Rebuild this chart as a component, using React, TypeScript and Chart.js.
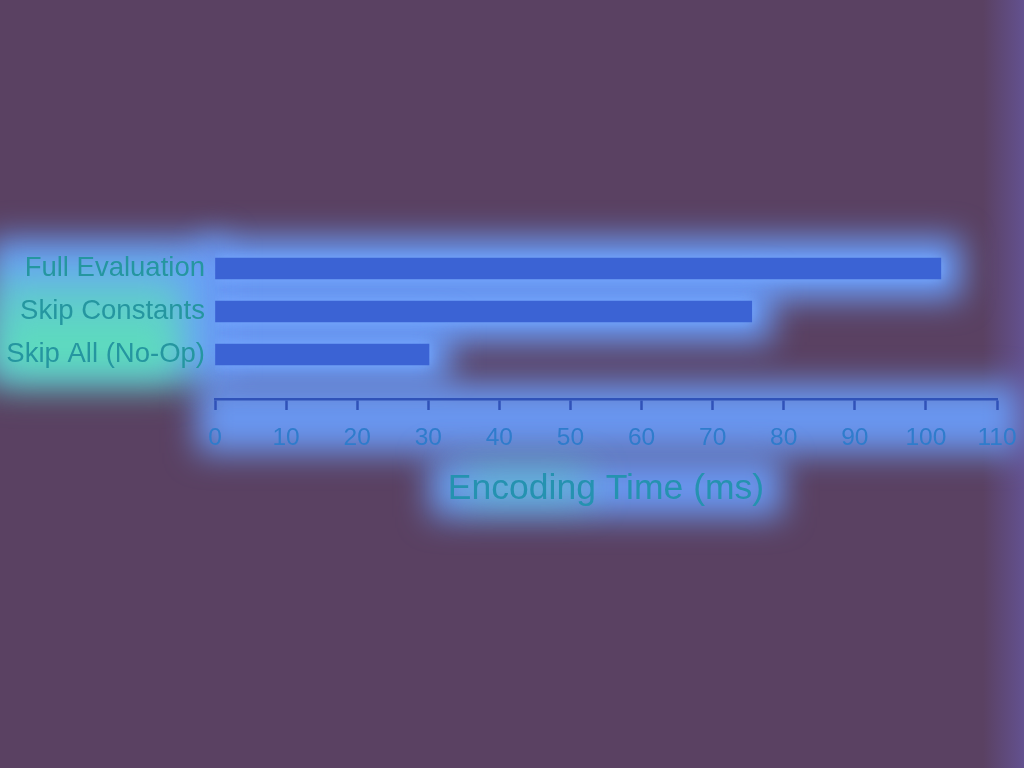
import React, { useEffect, useRef } from "react";
import { Chart, registerables } from "chart.js";

Chart.register(...registerables);

const categories: string[] = ["Full Evaluation", "Skip Constants", "Skip All (No-Op)"];
const encodingTimes: number[] = [102.1, 75.5, 30.1];
const xTickMin = 0;
const xTickMax = 110;
const xTickStep = 10;
const xTitle = "Encoding Time (ms)";

const FONT = "'Liberation Sans', Arial, Helvetica, sans-serif";

const heatPlugin = {
  id: "heat",
  beforeDraw(chart: any) {
    const { ctx, chartArea } = chart;
    const x = chart.scales.x;
    const meta = chart.getDatasetMeta(0);
    const bars = meta.data.map((b: any) => b.getProps(["x", "y", "base", "height"], true));
    if (!bars.length) return;
    const firstY = bars[0].y;
    const lastY = bars[bars.length - 1].y;
    ctx.save();
    ctx.filter = "blur(16px)";
    ctx.fillStyle = "rgba(106,160,255,0.97)";
    bars.forEach((b: any) => {
      ctx.fillRect(b.base - 12, b.y - b.height / 2 - 20, b.x - b.base + 32, b.height + 40);
    });
    ctx.fillRect(-10, firstY - 30, chartArea.left + 20, lastY - firstY + 56);
    ctx.fillStyle = "rgba(106,160,255,0.9)";
    ctx.fillRect(x.left - 18, chartArea.bottom - 16, x.right - x.left + 40, 70);
    ctx.font = `35.5px ${FONT}`;
    const tw = ctx.measureText(xTitle).width;
    const cx = (x.left + x.right) / 2;
    ctx.fillRect(cx - tw / 2 - 18, chartArea.bottom + 58, tw + 36, 60);
    ctx.filter = "blur(20px)";
    const g = ctx.createLinearGradient(0, firstY, 0, lastY + 20);
    g.addColorStop(0, "rgba(90,235,175,0.45)");
    g.addColorStop(1, "rgba(90,235,175,0.95)");
    ctx.fillStyle = g;
    ctx.fillRect(-10, firstY + 4, chartArea.left - 20, lastY - firstY + 22);
    ctx.fillStyle = "rgba(90,235,175,0.6)";
    ctx.fillRect(cx - tw / 2 + 14, chartArea.bottom + 74, tw * 0.4, 24);
    ctx.restore();
  },
  beforeDatasetsDraw(chart: any) {
    const { ctx } = chart;
    ctx.save();
    ctx.shadowColor = "rgba(120,170,255,0.9)";
    ctx.shadowBlur = 12;
  },
  afterDatasetsDraw(chart: any) {
    chart.ctx.restore();
  },
};

export default function App() {
  const canvasRef = useRef<HTMLCanvasElement | null>(null);

  useEffect(() => {
    if (!canvasRef.current) return;
    const chart = new Chart(canvasRef.current, {
      type: "bar",
      data: {
        datasets: [
          {
            data: encodingTimes.map((v, i) => ({ x: v, y: i })),
            backgroundColor: "#3b63d4",
            borderWidth: 0,
            barThickness: 21,
          },
        ],
      },
      plugins: [heatPlugin],
      options: {
        animation: false,
        responsive: false,
        indexAxis: "y",
        layout: { padding: { top: 247, right: 27, bottom: 257, left: 2 } },
        plugins: {
          legend: { display: false },
          tooltip: { enabled: false },
        },
        scales: {
          x: {
            type: "linear",
            bounds: "data",
            min: xTickMin,
            max: xTickMax,
            afterBuildTicks: (scale: any) => {
              const t = [];
              for (let v = xTickMin; v <= xTickMax; v += xTickStep) t.push({ value: v });
              scale.ticks = t;
            },
            afterFit: (scale: any) => {
              scale.paddingLeft = 0;
              scale.paddingRight = 0;
            },
            grid: {
              drawOnChartArea: false,
              drawTicks: true,
              tickLength: 11,
              tickWidth: 2.5,
              tickColor: "#3052b8",
            },
            border: { display: true, color: "#3052b8", width: 2.5 },
            ticks: {
              color: "#2f7ccc",
              font: { family: FONT, size: 24.5 },
              padding: 14,
              maxRotation: 0,
              autoSkip: false,
            },
            title: {
              display: true,
              text: xTitle,
              color: "#2592b0",
              font: { family: FONT, size: 35.5 },
              padding: { top: 1, bottom: 0 },
            },
          },
          y: {
            type: "linear",
            bounds: "data",
            offset: false,
            reverse: true,
            min: -0.5,
            max: 2.5 + 23 / 43,
            afterBuildTicks: (scale: any) => {
              scale.ticks = categories.map((_, i) => ({ value: i }));
            },
            afterFit: (scale: any) => {
              scale.width = 213;
              scale.paddingTop = 0;
              scale.paddingBottom = 0;
            },
            grid: { display: false, drawTicks: false, offset: false },
            border: { display: false },
            ticks: {
              color: "#2596a0",
              font: { family: FONT, size: 27.5 },
              padding: 10,
              autoSkip: false,
              callback: (v: any) => categories[Number(v)] ?? "",
            },
          },
        },
      },
    } as any);
    return () => chart.destroy();
  }, []);

  return (
    <div
      style={{
        position: "fixed",
        left: 0,
        top: 0,
        width: 1024,
        height: 768,
        background: "linear-gradient(to right, #5a4162 0%, #5a4162 96%, #63518f 100%)",
      }}
    >
      <canvas ref={canvasRef} width={1024} height={768} style={{ display: "block" }} />
    </div>
  );
}
